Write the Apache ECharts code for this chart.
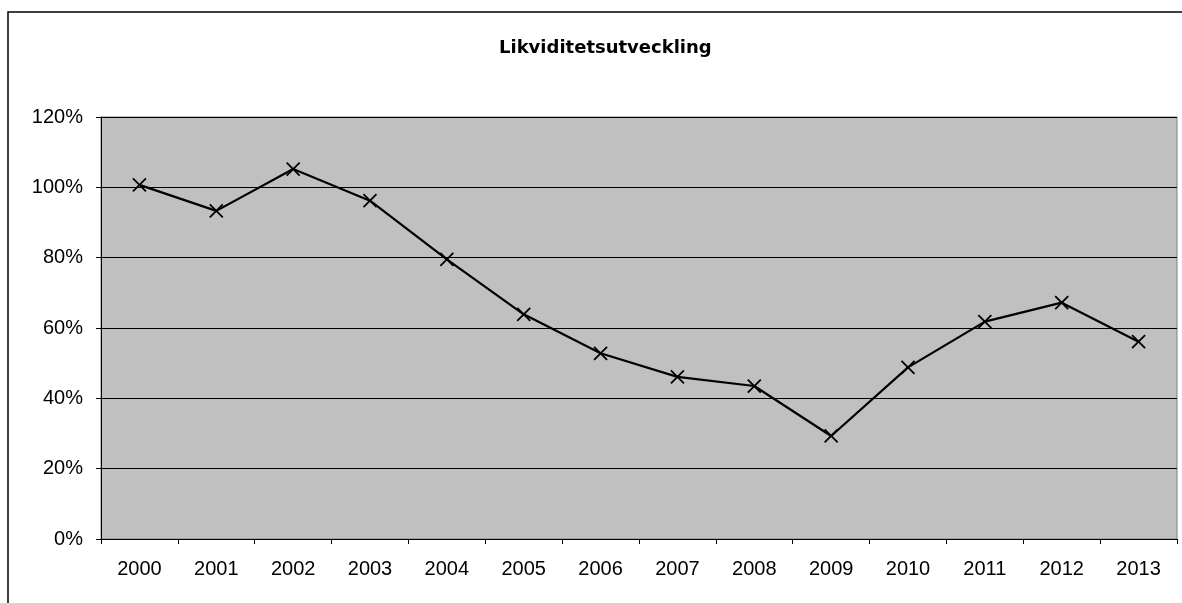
<!DOCTYPE html>
<html>
<head>
<meta charset="utf-8">
<script src="https://cdn.jsdelivr.net/npm/echarts@6/dist/echarts.min.js"></script>
<style>
html,body{margin:0;padding:0;background:#fff;}
#c{width:1182px;height:603px;}
</style>
</head>
<body>
<div id="c"></div>
<script>
const titleText = 'Likviditetsutveckling';
const years = ['2000','2001','2002','2003','2004','2005','2006','2007','2008','2009','2010','2011','2012','2013'];
const liquidity = [100.7, 93.3, 105.2, 96.2, 79.5, 63.9, 52.8, 46.1, 43.5, 29.3, 48.8, 61.8, 67.2, 56.1];
const yTicks = [0, 20, 40, 60, 80, 100, 120];

const chart = echarts.init(document.getElementById('c'), null, {renderer: 'canvas'});
chart.setOption({
  animation: false,
  backgroundColor: '#fff',
  graphic: [{
    type: 'rect',
    shape: {x: 8, y: 12, width: 1200, height: 620},
    style: {fill: 'none', stroke: '#000', lineWidth: 1.5},
    silent: true, z: 100
  }],
  title: {
    text: titleText,
    left: 494,
    top: 34,
    textStyle: {fontFamily: 'DejaVu Sans, sans-serif', fontWeight: 'bold', fontSize: 18, color: '#000'}
  },
  grid: {
    left: 101, right: 5, top: 117, bottom: 64,
    show: true, backgroundColor: '#C0C0C0', borderColor: '#808080', borderWidth: 1
  },
  xAxis: {
    type: 'category',
    data: years,
    boundaryGap: true,
    axisLine: {lineStyle: {color: '#000', width: 1}},
    axisTick: {show: true, length: 5, lineStyle: {color: '#000'}},
    axisLabel: {margin: 20, color: '#000', fontSize: 20, fontFamily: 'Liberation Sans, Arial, sans-serif'}
  },
  yAxis: {
    type: 'value',
    min: yTicks[0], max: yTicks[yTicks.length - 1], interval: 20,
    axisLine: {show: true, lineStyle: {color: '#000', width: 1}},
    axisTick: {show: true, length: 5, lineStyle: {color: '#000'}},
    axisLabel: {margin: 18, color: '#000', fontSize: 20, fontFamily: 'Liberation Sans, Arial, sans-serif', formatter: '{value}%'},
    splitLine: {show: true, lineStyle: {color: '#000', width: 1}}
  },
  series: [{
    type: 'line',
    data: liquidity,
    lineStyle: {color: '#000', width: 2.2},
    symbol: 'path://M0,0L10,10M10,0L0,10',
    symbolSize: 13,
    showAllSymbol: true,
    itemStyle: {color: 'none', borderColor: '#000', borderWidth: 1.8},
    z: 5
  }]
});
</script>
</body>
</html>
